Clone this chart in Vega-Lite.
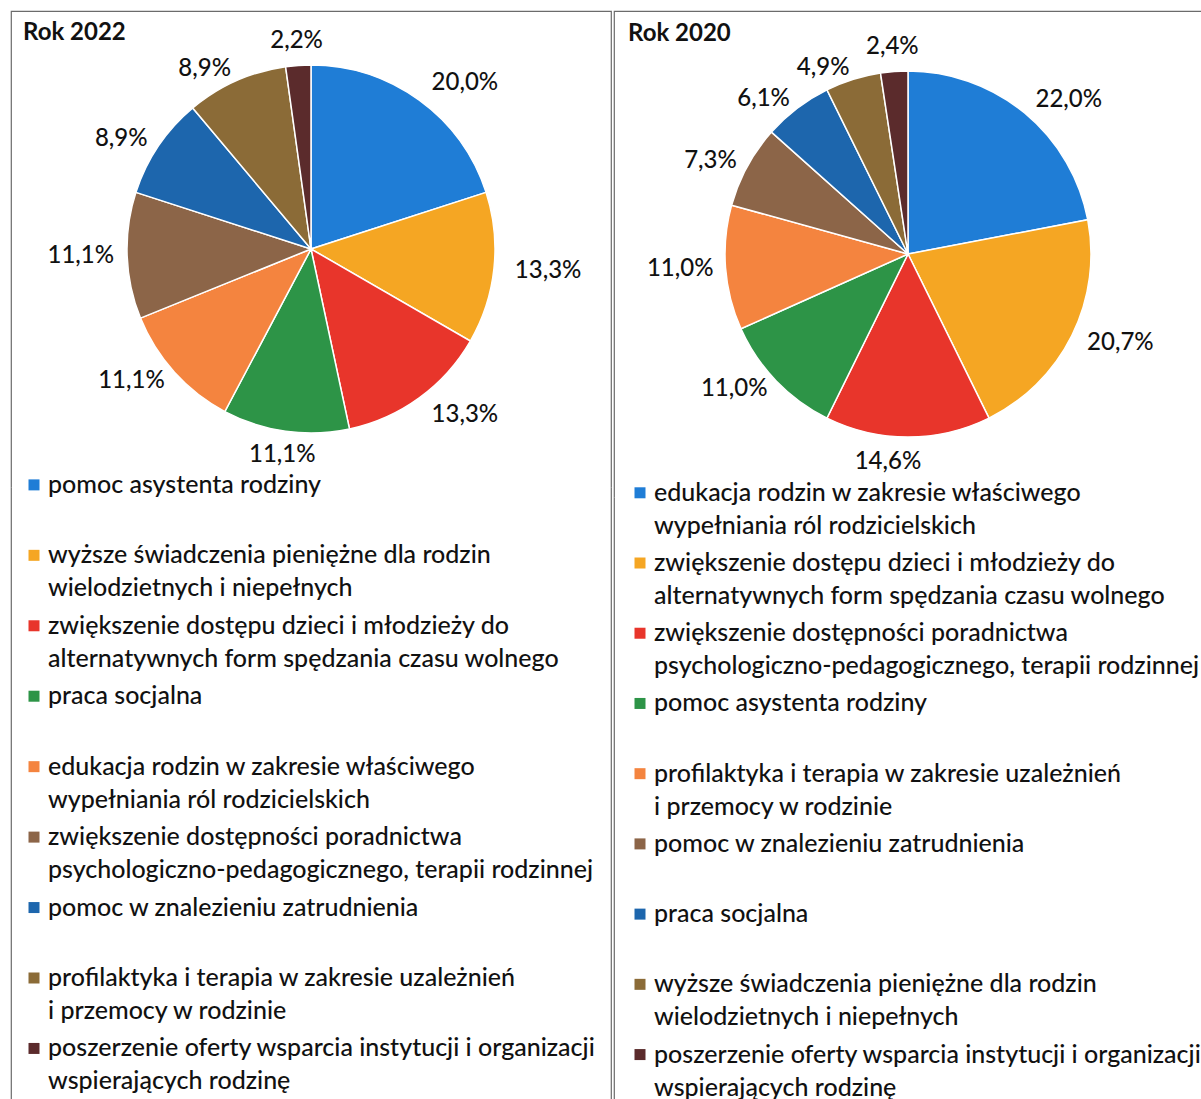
{
  "$schema": "https://vega.github.io/schema/vega-lite/v6.json",
  "background": "white",
  "padding": {"left": 10, "top": 10, "right": 0, "bottom": 0},
  "spacing": 1,
  "config": {
    "locale": {"number": {"decimal": ",", "thousands": " ", "grouping": [3], "currency": ["", " zł"]}},
    "font": "Lato",
    "text": {"font": "Lato", "fill": "#111111", "fontWeight": 500},
    "title": {"font": "Lato", "color": "#111111"}
  },
  "datasets": {
    "d2022": [
      {"i": 0, "v": 0.2, "cat": "pomoc asystenta rodziny"},
      {"i": 1, "v": 0.133, "cat": "wyższe świadczenia pieniężne dla rodzin\nwielodzietnych i niepełnych"},
      {"i": 2, "v": 0.133, "cat": "zwiększenie dostępu dzieci i młodzieży do\nalternatywnych form spędzania czasu wolnego"},
      {"i": 3, "v": 0.111, "cat": "praca socjalna"},
      {"i": 4, "v": 0.111, "cat": "edukacja rodzin w zakresie właściwego\nwypełniania ról rodzicielskich"},
      {"i": 5, "v": 0.111, "cat": "zwiększenie dostępności poradnictwa\npsychologiczno-pedagogicznego, terapii rodzinnej"},
      {"i": 6, "v": 0.089, "cat": "pomoc w znalezieniu zatrudnienia"},
      {"i": 7, "v": 0.089, "cat": "profilaktyka i terapia w zakresie uzależnień\ni przemocy w rodzinie"},
      {"i": 8, "v": 0.022, "cat": "poszerzenie oferty wsparcia instytucji i organizacji\nwspierających rodzinę"}
    ],
    "d2020": [
      {"i": 0, "v": 0.22, "cat": "edukacja rodzin w zakresie właściwego\nwypełniania ról rodzicielskich"},
      {"i": 1, "v": 0.207, "cat": "zwiększenie dostępu dzieci i młodzieży do\nalternatywnych form spędzania czasu wolnego"},
      {"i": 2, "v": 0.146, "cat": "zwiększenie dostępności poradnictwa\npsychologiczno-pedagogicznego, terapii rodzinnej"},
      {"i": 3, "v": 0.11, "cat": "pomoc asystenta rodziny"},
      {"i": 4, "v": 0.11, "cat": "profilaktyka i terapia w zakresie uzależnień\ni przemocy w rodzinie"},
      {"i": 5, "v": 0.073, "cat": "pomoc w znalezieniu zatrudnienia"},
      {"i": 6, "v": 0.061, "cat": "praca socjalna"},
      {"i": 7, "v": 0.049, "cat": "wyższe świadczenia pieniężne dla rodzin\nwielodzietnych i niepełnych"},
      {"i": 8, "v": 0.024, "cat": "poszerzenie oferty wsparcia instytucji i organizacji\nwspierających rodzinę"}
    ]
  },
  "resolve": {"scale": {"color": "independent", "theta": "independent", "x": "independent", "y": "independent"}},
  "hconcat": [
    {
      "spacing": 0,
      "bounds": "flush",
      "resolve": {"scale": {"x": "independent", "y": "independent"}},
      "vconcat": [
        {
          "width": 600,
          "height": 476,
          "view": {"stroke": "#6b6b6b", "strokeWidth": 1.2, "strokeDash": [1076, 600, 481]},
          "title": {"text": "Rok 2022", "anchor": "start", "frame": "group", "orient": "top", "offset": 0, "baseline": "top", "dx": 12, "dy": 34, "fontSize": 24, "fontWeight": "bold"},
          "data": {"name": "d2022"},
          "encoding": {
            "theta": {"field": "v", "type": "quantitative", "stack": true},
            "order": {"field": "i", "type": "quantitative"}
          },
          "layer": [
            {
              "mark": {"type": "arc", "outerRadius": 184, "stroke": "white", "strokeWidth": 1.5},
              "encoding": {
                "color": {"field": "cat", "type": "nominal", "legend": null,
                  "scale": {"domain": ["pomoc asystenta rodziny", "wyższe świadczenia pieniężne dla rodzin\nwielodzietnych i niepełnych", "zwiększenie dostępu dzieci i młodzieży do\nalternatywnych form spędzania czasu wolnego", "praca socjalna", "edukacja rodzin w zakresie właściwego\nwypełniania ról rodzicielskich", "zwiększenie dostępności poradnictwa\npsychologiczno-pedagogicznego, terapii rodzinnej", "pomoc w znalezieniu zatrudnienia", "profilaktyka i terapia w zakresie uzależnień\ni przemocy w rodzinie", "poszerzenie oferty wsparcia instytucji i organizacji\nwspierających rodzinę"],
                    "range": ["#1f7dd6", "#f5a623", "#e8352b", "#2d9447", "#f4843f", "#8c6548", "#1d66ad", "#8b6b37", "#5b2b2c"]}}
              }
            },
            {
              "mark": {"type": "text", "radius": 205, "fontSize": 24, "align": "left", "baseline": "middle"},
              "encoding": {
                "detail": {"field": "cat", "type": "nominal"},
                "text": {"condition": {"test": "datum.i <= 2", "field": "v", "type": "quantitative", "format": ".1%"}, "value": ""}
              }
            },
            {
              "mark": {"type": "text", "radius": 197, "fontSize": 24, "align": "right", "baseline": "middle"},
              "encoding": {
                "detail": {"field": "cat", "type": "nominal"},
                "text": {"condition": {"test": "datum.i >= 4 && datum.i <= 7", "field": "v", "type": "quantitative", "format": ".1%"}, "value": ""}
              }
            },
            {
              "mark": {"type": "text", "radius": 208, "fontSize": 24, "align": "center", "baseline": "middle"},
              "encoding": {
                "detail": {"field": "cat", "type": "nominal"},
                "text": {"condition": {"test": "datum.i == 3 || datum.i == 8", "field": "v", "type": "quantitative", "format": ".1%"}, "value": ""}
              }
            }
          ]
        },
        {
          "width": 600,
          "height": 634,
          "view": {"stroke": "#6b6b6b", "strokeWidth": 1.2, "strokeDash": [0, 600, 3000]},
          "data": {"name": "d2022"},
          "encoding": {
            "y": {"field": "i", "type": "quantitative", "scale": {"domain": [0.03, 9.03], "reverse": true, "nice": false, "zero": false}, "axis": null},
            "x": {"datum": 0, "type": "quantitative", "scale": {"domain": [0, 1]}, "axis": null}
          },
          "layer": [
            {
              "mark": {"type": "point", "shape": "square", "filled": true, "opacity": 1, "size": 121, "xOffset": 23},
              "encoding": {
                "color": {"field": "cat", "type": "nominal", "legend": null,
                  "scale": {"domain": ["pomoc asystenta rodziny", "wyższe świadczenia pieniężne dla rodzin\nwielodzietnych i niepełnych", "zwiększenie dostępu dzieci i młodzieży do\nalternatywnych form spędzania czasu wolnego", "praca socjalna", "edukacja rodzin w zakresie właściwego\nwypełniania ról rodzicielskich", "zwiększenie dostępności poradnictwa\npsychologiczno-pedagogicznego, terapii rodzinnej", "pomoc w znalezieniu zatrudnienia", "profilaktyka i terapia w zakresie uzależnień\ni przemocy w rodzinie", "poszerzenie oferty wsparcia instytucji i organizacji\nwspierających rodzinę"],
                    "range": ["#1f7dd6", "#f5a623", "#e8352b", "#2d9447", "#f4843f", "#8c6548", "#1d66ad", "#8b6b37", "#5b2b2c"]}}
              }
            },
            {
              "mark": {"type": "text", "align": "left", "baseline": "middle", "dx": 37, "fontSize": 25, "lineBreak": "\n", "lineHeight": 33},
              "encoding": {"text": {"field": "cat", "type": "nominal"}}
            }
          ]
        }
      ]
    },
    {
      "spacing": 0,
      "bounds": "flush",
      "resolve": {"scale": {"x": "independent", "y": "independent"}},
      "vconcat": [
        {
          "width": 588,
          "height": 486,
          "view": {"stroke": "#6b6b6b", "strokeWidth": 1.2, "strokeDash": [1074, 588, 491]},
          "title": {"text": "Rok 2020", "anchor": "start", "frame": "group", "orient": "top", "offset": 0, "baseline": "top", "dx": 14, "dy": 35, "fontSize": 24, "fontWeight": "bold"},
          "data": {"name": "d2020"},
          "encoding": {
            "theta": {"field": "v", "type": "quantitative", "stack": true},
            "order": {"field": "i", "type": "quantitative"}
          },
          "layer": [
            {
              "mark": {"type": "arc", "outerRadius": 183, "stroke": "white", "strokeWidth": 1.5},
              "encoding": {
                "color": {"field": "cat", "type": "nominal", "legend": null,
                  "scale": {"domain": ["edukacja rodzin w zakresie właściwego\nwypełniania ról rodzicielskich", "zwiększenie dostępu dzieci i młodzieży do\nalternatywnych form spędzania czasu wolnego", "zwiększenie dostępności poradnictwa\npsychologiczno-pedagogicznego, terapii rodzinnej", "pomoc asystenta rodziny", "profilaktyka i terapia w zakresie uzależnień\ni przemocy w rodzinie", "pomoc w znalezieniu zatrudnienia", "praca socjalna", "wyższe świadczenia pieniężne dla rodzin\nwielodzietnych i niepełnych", "poszerzenie oferty wsparcia instytucji i organizacji\nwspierających rodzinę"],
                    "range": ["#1f7dd6", "#f5a623", "#e8352b", "#2d9447", "#f4843f", "#8c6548", "#1d66ad", "#8b6b37", "#5b2b2c"]}}
              }
            },
            {
              "mark": {"type": "text", "radius": 200, "fontSize": 24, "align": "left", "baseline": "middle"},
              "encoding": {
                "detail": {"field": "cat", "type": "nominal"},
                "text": {"condition": {"test": "datum.i <= 1", "field": "v", "type": "quantitative", "format": ".1%"}, "value": ""}
              }
            },
            {
              "mark": {"type": "text", "radius": 195, "fontSize": 24, "align": "right", "baseline": "middle"},
              "encoding": {
                "detail": {"field": "cat", "type": "nominal"},
                "text": {"condition": {"test": "datum.i >= 3 && datum.i <= 7", "field": "v", "type": "quantitative", "format": ".1%"}, "value": ""}
              }
            },
            {
              "mark": {"type": "text", "radius": 208, "fontSize": 24, "align": "center", "baseline": "middle", "dx": -20},
              "encoding": {
                "detail": {"field": "cat", "type": "nominal"},
                "text": {"condition": {"test": "datum.i == 2", "field": "v", "type": "quantitative", "format": ".1%"}, "value": ""}
              }
            },
            {
              "mark": {"type": "text", "radius": 208, "fontSize": 24, "align": "center", "baseline": "middle"},
              "encoding": {
                "detail": {"field": "cat", "type": "nominal"},
                "text": {"condition": {"test": "datum.i == 8", "field": "v", "type": "quantitative", "format": ".1%"}, "value": ""}
              }
            }
          ]
        },
        {
          "width": 588,
          "height": 632,
          "view": {"stroke": "#6b6b6b", "strokeWidth": 1.2, "strokeDash": [0, 588, 3000]},
          "data": {"name": "d2020"},
          "encoding": {
            "y": {"field": "i", "type": "quantitative", "scale": {"domain": [0.06, 9.06], "reverse": true, "nice": false, "zero": false}, "axis": null},
            "x": {"datum": 0, "type": "quantitative", "scale": {"domain": [0, 1]}, "axis": null}
          },
          "layer": [
            {
              "mark": {"type": "point", "shape": "square", "filled": true, "opacity": 1, "size": 121, "xOffset": 26},
              "encoding": {
                "color": {"field": "cat", "type": "nominal", "legend": null,
                  "scale": {"domain": ["edukacja rodzin w zakresie właściwego\nwypełniania ról rodzicielskich", "zwiększenie dostępu dzieci i młodzieży do\nalternatywnych form spędzania czasu wolnego", "zwiększenie dostępności poradnictwa\npsychologiczno-pedagogicznego, terapii rodzinnej", "pomoc asystenta rodziny", "profilaktyka i terapia w zakresie uzależnień\ni przemocy w rodzinie", "pomoc w znalezieniu zatrudnienia", "praca socjalna", "wyższe świadczenia pieniężne dla rodzin\nwielodzietnych i niepełnych", "poszerzenie oferty wsparcia instytucji i organizacji\nwspierających rodzinę"],
                    "range": ["#1f7dd6", "#f5a623", "#e8352b", "#2d9447", "#f4843f", "#8c6548", "#1d66ad", "#8b6b37", "#5b2b2c"]}}
              }
            },
            {
              "mark": {"type": "text", "align": "left", "baseline": "middle", "dx": 40, "fontSize": 25, "lineBreak": "\n", "lineHeight": 33},
              "encoding": {"text": {"field": "cat", "type": "nominal"}}
            }
          ]
        }
      ]
    }
  ]
}
